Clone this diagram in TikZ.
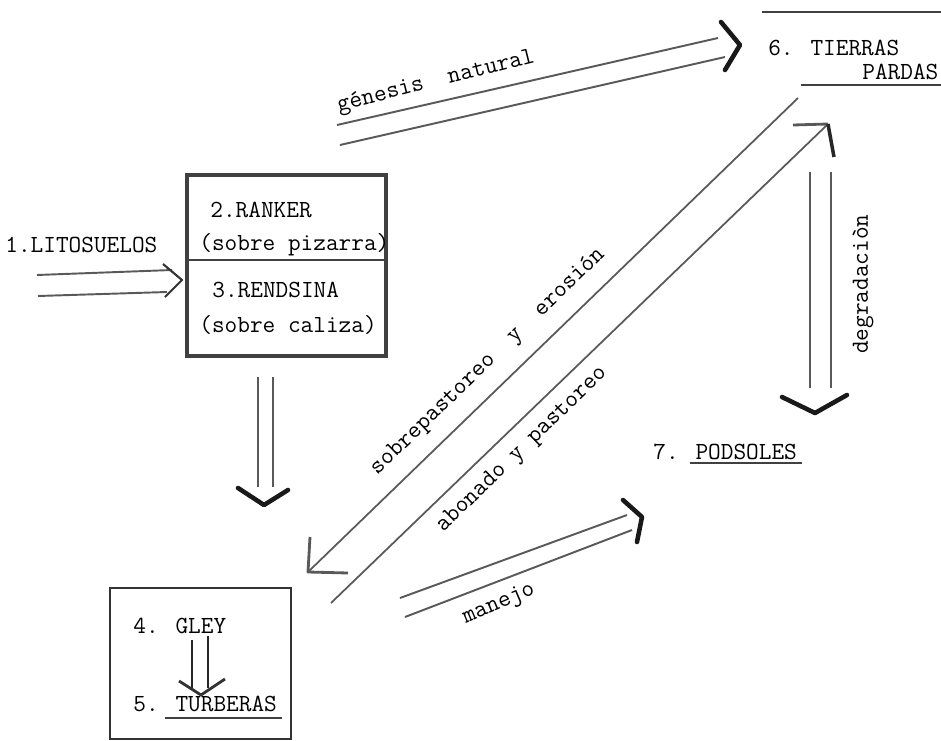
\documentclass[tikz,border=0pt]{standalone}
\begin{document}
\begin{tikzpicture}[x=0.02cm,y=-0.02cm]
\tikzstyle{every node}=[font=\ttfamily\fontsize{14}{16}\selectfont, inner sep=0pt, text=black]
\tikzstyle{shaft}=[line width=1.1pt, black!65]
\tikzstyle{chevron}=[line width=2.6pt, black!90, line cap=round, line join=round]
\tikzstyle{thinhead}=[line width=1.2pt, black!80, line join=round]
\tikzstyle{rule}=[line width=1.2pt, black!75]
	\useasboundingbox (0,0) rectangle (941,741);

	% boxes
	\draw[line width=2.2pt, black!75] (187,175) rectangle (386,356);
	\draw[line width=1pt, black!75] (187,260) to (386,260);
	\draw[line width=1.1pt, black!80] (110,588) rectangle (291,739);

	% texts
	\node[anchor=west] (lito) at (5,245) {1.LITOSUELOS};
	\node[anchor=west] (ranker) at (210,210) {2.RANKER};
	\node[anchor=west] (pizarra) at (199,245) {(sobre pizarra)};
	\node[anchor=west] (rendsina) at (212,290) {3.RENDSINA};
	\node[anchor=west] (caliza) at (199,325) {(sobre caliza)};
	\node[anchor=west] (gley) at (133,626) {4. GLEY};
	\node[anchor=west] (turberas) at (133,704) {5. TURBERAS};
	\node[anchor=west] (tierras) at (768,48) {6. TIERRAS};
	\node[anchor=west] (pardas) at (862,72) {PARDAS};
	\node[anchor=west] (podsoles) at (653,452) {7. PODSOLES};

	\node[rotate=14] (genesis) at (436,82) {génesis\ \ natural};
	\node[rotate=44] (sobrepast) at (488,362) {sobrepastoreo\ \ y\ \ erosión};
	\node[rotate=44] (abonado) at (522,450) {abonado y pastoreo};
	\node[rotate=23] (manejo) at (499,604) {manejo};
	\node[rotate=90] (degrad) at (863,284) {degradaciòn};

	% end points
	\coordinate (l1) at (37,275); \coordinate (l1e) at (172,270);
	\coordinate (l2) at (38,296); \coordinate (l2e) at (167,292);
	\coordinate (lt) at (182,280);
	\coordinate (r1) at (258,377); \coordinate (r1e) at (258,487);
	\coordinate (r2) at (273,377); \coordinate (r2e) at (273,487);
	\coordinate (rt) at (264,505);
	\coordinate (g1) at (337,125); \coordinate (g1e) at (718,38);
	\coordinate (g2) at (340,145); \coordinate (g2e) at (725,57);
	\coordinate (gt) at (740,45);
	\coordinate (s1) at (798,98); \coordinate (st) at (308,572);
	\coordinate (a1) at (331,603); \coordinate (at1) at (828,124);
	\coordinate (d1) at (810,172); \coordinate (d1e) at (810,388);
	\coordinate (d2) at (831,172); \coordinate (d2e) at (831,388);
	\coordinate (dt) at (815,413);
	\coordinate (m1) at (400,598); \coordinate (m1e) at (627,515);
	\coordinate (m2) at (405,617); \coordinate (m2e) at (632,530);
	\coordinate (mt) at (642,517);
	\coordinate (y1) at (192,640); \coordinate (y1e) at (192,688);
	\coordinate (y2) at (208,636); \coordinate (y2e) at (208,688);
	\coordinate (yt) at (201,695);

	% 1 -> 2/3
	\draw[shaft] (l1) to (l1e);
	\draw[shaft] (l2) to (l2e);
	\draw[thinhead] (163,264) to (lt) to (165,297);

	% 2/3 -> 4
	\draw[shaft] (r1) to (r1e);
	\draw[shaft] (r2) to (r2e);
	\draw[chevron] (238,488) to (rt) to (288,490);

	% genesis natural
	\draw[shaft] (g1) to (g1e);
	\draw[shaft] (g2) to (g2e);
	\draw[chevron] (721,22) to (gt) to (725,70);

	% sobrepastoreo y erosion
	\draw[shaft, line width=1pt] (s1) to (st);
	\draw[shaft, line width=1.6pt, line join=round] (310,537) to (st) to (348,573);

	% abonado y pastoreo
	\draw[shaft, line width=1pt] (a1) to (at1);
	\draw[shaft, line width=1.6pt] (793,125) to (at1);
	\draw[line width=2pt, black!85] (at1) to (834,157);

	% degradacion
	\draw[shaft] (d1) to (d1e);
	\draw[shaft] (d2) to (d2e);
	\draw[chevron] (782,397) to (dt) to (847,395);

	% manejo
	\draw[shaft] (m1) to (m1e);
	\draw[shaft] (m2) to (m2e);
	\draw[chevron] (623,500) to (mt) to (637,542);

	% gley -> turberas
	\draw[line width=1pt, black!85] (y1) to (y1e);
	\draw[line width=1pt, black!85] (y2) to (y2e);
	\draw[thinhead, line width=1.6pt] (179,681) to (yt) to (225,679);

	% rules
	\draw[rule] (762,12) to (941,12);
	\draw[rule] (801,85) to (941,85);
	\draw[rule, line width=1.5pt] (165,718) to (282,718);
	\draw[rule, line width=1.5pt] (690,463) to (802,463);
\end{tikzpicture}
\end{document}
